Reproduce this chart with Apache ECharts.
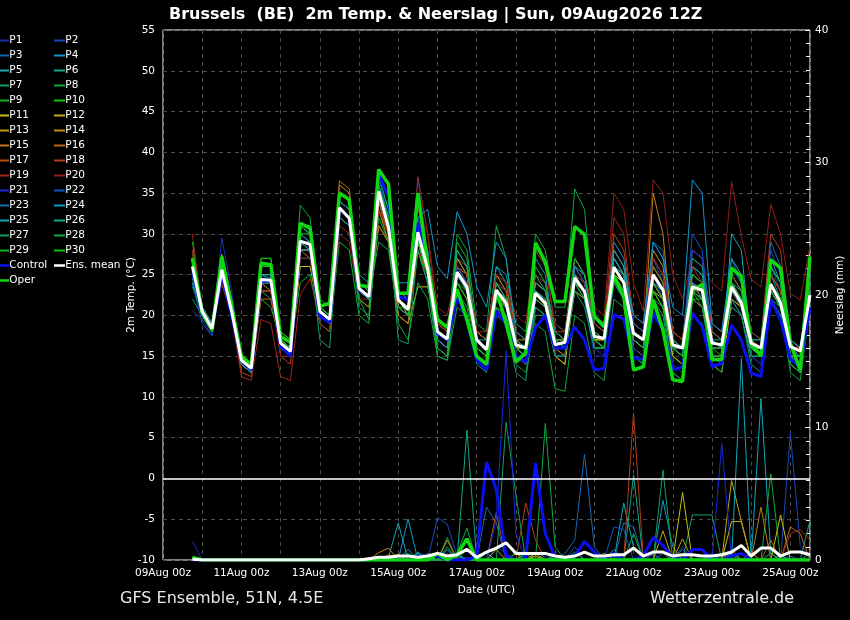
<!DOCTYPE html>
<html><head><meta charset="utf-8">
<script src="https://cdn.jsdelivr.net/npm/echarts/dist/echarts.min.js"></script>
<style>html,body{margin:0;padding:0;background:#000}#c{width:850px;height:620px}</style>
</head><body><div id="c"></div>
<script>
// ---- time axis ----
const tickLabels = ['09Aug 00z','11Aug 00z','13Aug 00z','15Aug 00z','17Aug 00z','19Aug 00z','21Aug 00z','23Aug 00z','25Aug 00z'];
const startHour = 18;   // first step: 09Aug 18z (hours after 09Aug 00z)
const stepHours = 6;

// ---- 2m temperature (°C) ----
const tMean = [26.0, 20.5,18.4,25.6,20.5, 14.5,13.5,24.4,24.3, 16.6,15.6,29.1,28.7, 20.5,19.5,33.2,31.9, 23.3,22.3,35.2,30.8, 21.9,20.7,30.2,25.7, 18.0,17.1,25.3,23.5, 17.0,15.8,23.1,21.5, 16.4,16.0,22.7,21.5, 16.4,16.7,24.6,22.9, 17.4,17.2,25.9,24.0, 17.8,17.0,25.0,23.1, 16.4,16.0,23.5,23.1, 16.6,16.4,23.5,21.5, 16.6,16.0,23.8,21.5, 16.2,15.6,22.5];
const tOper = [27.0, 20.3,18.2,27.2,21.1, 15.0,13.9,26.4,26.2, 17.4,16.7,31.3,30.7, 21.1,21.5,35.0,34.2, 23.7,23.5,37.9,36.1, 22.7,22.7,35.0,26.4, 19.5,18.5,23.2,19.5, 15.0,14.0,23.1,19.0, 14.3,15.4,28.9,26.5, 21.7,21.7,30.9,29.9, 19.9,18.6,24.8,22.3, 13.3,13.7,21.9,18.2, 12.1,11.9,23.1,23.8, 14.6,14.6,25.8,24.8, 16.6,15.0,26.8,25.8, 16.6,13.3,27.2];
const tCtrl = [25.5, 20.3,18.2,25.0,20.0, 14.5,13.3,24.2,24.2, 16.2,15.0,29.1,28.7, 19.9,19.1,33.2,31.9, 23.1,22.3,37.3,34.6, 22.3,21.9,31.3,26.8, 17.8,17.0,22.3,19.5, 14.5,13.3,20.5,19.0, 15.0,14.3,18.5,20.0, 16.0,16.0,18.6,17.0, 13.3,13.5,20.1,19.5, 14.8,14.6,20.3,18.2, 13.3,13.7,20.3,18.6, 13.7,14.1,18.8,17.0, 12.9,12.5,21.9,19.5, 14.6,13.7,21.0];
const tP1 = [20.5, 19.5,17.5,29.5,23, 14,13,24,24, 16,15,28,28, 20,19,32,31, 23,22,36,32, 21,20,37,27, 18,17,25,23, 16,15,22,21, 15,14,20,20, 15,15,23,22, 15,15,24,22, 16,15,25,22, 14,13,22,21, 14,14,22,20, 15,14,23,21, 15,14,21];
const tP2 = [25, 20,18,25,20, 14,13,24,24, 16,15,29,28, 20,19,34,33, 24,23,36,31, 22,21,31,26, 17,16,25,24, 17,16,24,23, 17,16,22,21, 16,16,26,24, 17,16,28,26, 18,17,27,24, 17,16,25,24, 16,16,24,22, 17,16,26,23, 16,15,24];
const tP3 = [24, 20,18,25,21, 15,14,25,25, 17,16,30,29, 21,20,33,32, 24,23,35,31, 22,21,29,25, 16,15,27,25, 15,14,21,20, 18,17,24,23, 18,17,27,25, 19,18,24,22, 18,17,29,28, 18,17,28,27, 19,18,27,24, 18,17,29,26, 17,16,25];
const tP4 = [23.5, 20.5,18.5,26,21, 14.5,13.5,25,24.5, 17,16,31,30, 21,20,34,33, 24,23,37,33, 22,21,32,28, 19,18,28,26, 18,17,26,24, 17,16,24,23, 18,17,26,25, 19,18,29,27, 19,18,26,24, 17,16,26,25, 18,17,25,23, 17,16,27,24, 17,16,24];
const tP5 = [24, 21,19,24,20, 15,14,23,23, 17,16,28,28, 21,20,32,31, 23,22,34,30, 21,20,29,25, 17,16,24,22, 16,15,22,21, 16,15,21,20, 17,16,23,22, 16,16,25,23, 17,16,24,22, 16,15,22,21, 16,16,21,20, 15,15,22,20, 15,14,21];
const tP6 = [27, 21,19,26,21, 15,14,26,26, 17,16,30,29, 21,20,33,32, 24,23,36,31, 22,21,30,25, 18,17,26,24, 18,17,26,25, 19,18,25,23, 19,18,27,25, 20,19,25,23, 17,16,23,21, 16,15,26,25, 17,17,24,22, 16,15,25,22, 14,13,22];
const tP7 = [22, 20,18,25,20, 14,13,23,22, 16,15,27,27, 20,19,32,31, 23,22,29,28, 20,19,28,24, 16,15,24,22, 16,15,22,20, 15,14,20,20, 16,16,23,22, 17,17,26,25, 19,18,23,21, 15,14,24,23, 16,16,26,24, 17,17,25,23, 16,16,23];
const tP8 = [28, 21,19,26,22, 15,14,27,27, 18,17,33.5,32, 22,21,34,33, 24,23,37,33, 23,22,30,25, 18,17,30,28, 19,18,31,27, 17,16,30,28, 21,21,35.5,33, 20,19,27,25, 17,16,24,22, 15,14,23,22, 18,17,26,24, 16,16,24,22, 15,14,23];
const tP9 = [26.5, 20,18,25,21, 14,13,22,21, 17,16,24,25, 19,18,29,28, 20,19,33,30, 21,20,28,24, 17,16,26,24, 16,15,23,22, 16,15,22,21, 15,15,24,23, 16,16,25,24, 17,16,26,24, 16,15,24,23, 15,15,25,23, 16,15,22,20, 15,14,23];
const tP10 = [29, 21,19,26,21, 15,14,27,27, 18,17,30,30, 21,20,34,33, 23,22,35,32, 21,21,30,26, 17,16,24,23, 17,16,23,21, 16,16,23,22, 17,17,24,23, 18,17,25,23, 17,16,23,21, 16,15,22,22, 17,16,24,22, 16,16,23,21, 16,15,22];
const tP11 = [25, 20,18,25,20, 14,13,25,25, 16,15,26,26, 20,19,32,31, 22,21,31,29, 20,19,23.5,23.5, 19,18,26,25, 18,17,23,21, 16,15,23,22, 15,14,24,22, 17,17,25,24, 16,15,23,22, 15,14,24,23, 14,13,22,21, 16,15,24,22, 15,14,22];
const tP12 = [26, 21,19,26,21, 15,14,24,24, 17,16,29,29, 21,20,34,33, 23,22,33,30, 21,20,28,25, 18,17,27,25, 17,16,25,23, 16,16,23,22, 15,14,25,24, 18,17,27,25, 19,18,28,26, 18,17,24,22, 17,16,24,22, 16,15,25,23, 17,16,23];
const tP13 = [27, 20,18,27.5,22, 14,13,24,23, 16,15,29,28, 21,20,35,34, 24,23,33,29, 22,21,29,26, 18,17,25,23, 17,16,22,21, 17,16,22,21, 17,17,25,23, 17,17,26,24, 17,16,24,22, 16,16,23,23, 17,16,22,21, 16,16,23,21, 16,16,22];
const tP14 = [26, 20,18,26,21, 14,13,24,24, 16,15,28,28, 20,19,36,35, 23,22,34,30, 22,21,30,26, 18,17,26,24, 18,17,24,22, 17,17,24,23, 17,16,24,23, 18,17,28,26, 18,17,35,30, 17,16,25,24, 17,16,24,22, 16,15,24,22, 16,15,23];
const tP15 = [25, 20,18,25,20, 14,13,23,23, 16,15,30,29, 19,18,33,32, 24,23,36,31, 22,20,31,26, 18,17,25,23, 16,15,23,21, 16,15,22,21, 16,15,23,22, 17,16,27,25, 17,16,24,23, 16,15,23,22, 15,15,22,21, 16,15,24,22, 15,15,22];
const tP16 = [26.5, 20,18,25,21, 14,13,22,22, 17,16,28,27, 21,20,36.5,35.5, 23,22,31,29, 20,19,29,25, 17,16,24,22, 16,15,23,22, 16,15,23,21, 16,15,24,23, 17,16,26,24, 18,17,26,24, 16,16,22,21, 16,16,23,22, 17,16,23,21, 15,15,22];
const tP17 = [26, 20,18,25,20, 14,13,24,24, 16,15,29,28, 20,19,33,32, 23,22,34,30, 21,20,28,25, 18,17,26,25, 17,16,24,22, 17,16,24,23, 18,17,26,24, 18,17,25,23, 17,16,24,22, 17,16,24,23, 16,16,23,21, 17,16,25,23, 16,16,23];
const tP18 = [27.5, 21,19,24,20, 13,12.5,23,23, 15,14,28,28, 20,19,32,31, 24,23,35,31, 23,22,31,27, 19,18,27,26, 18,17,25,24, 18,17,25,24, 18,18,27,25, 19,18,30,28, 20,19,27,25, 18,17,28,27, 18,17,25,23, 18,17,30,28, 16,15,24];
const tP19 = [30, 20,18,24,20, 12.5,12,19.5,19, 12.5,12,22.5,24.5, 20,19,31,30, 24,23,33,31, 22,21,37,30, 19,18,26,25, 17,16,24,23, 18,17,28,27, 18,17,27,25, 20,19,32,30, 19,18,27,25, 18,17,26,24, 19,18,26,24, 17,16,25,23, 16,16,24];
const tP20 = [28, 20,18,24,20, 14,13,23,23, 15,15,27,27, 19,18,30,29, 22,22,33,30, 21,20,33,30, 21,20,26,24, 18,18,25,24, 20,19,28,26, 19,18,25,24, 21,20,35,33, 24,20.5,36.6,35, 25,22,27,26, 24,23,36.4,29.7, 24.4,23.5,33.6,30, 22.7,21.9,28.5];
const tP21 = [25, 20,18,26,21, 15,14,25,24, 16,15,29,28, 20,19,32,31, 23,22,35,31, 22,21,32,27, 17,16,25,23, 15,14,22,21, 16,15,22,21, 15,15,24,22, 16,15,25,23, 16,15,25,23, 16,15,28,27, 16,16,24,22, 15,14,26,24, 15,14,25];
const tP22 = [24, 19,17.5,26,21, 14,13,24,24, 16,15,30,29, 20,19,34,33, 24,23,37,32, 23,22,30,26, 18,17,26,24, 17,16,24,22, 17,16,23,22, 17,16,26,24, 18,17,27,25, 19,18,29,27, 17,16,30,28, 17,16,26,24, 16,16,28,25, 16,15,24];
const tP23 = [25, 21,19,26,21, 15,14,25,25, 17,16,30,29, 21,20,34,33, 24,23,36,32, 22,21,31,26, 17,16,25,23, 16,15,22,21, 16,15,22,21, 16,16,24,22, 17,16,26,24, 17,16,25,23, 16,16,24,22, 17,16,23,21, 16,15,24,22, 15,15,23];
const tP24 = [24.5, 20,18,25,21, 15,14,25,25, 17,16,31,30, 21,20,33,32, 25,24,36,32, 24,24,32,33, 26,24.5,32.7,30, 23.5,21,29,27, 18,17,27,25, 17,16,26,25, 18,17,28,26, 20,19,29,27, 21,20,36.6,35, 19,18,27,25, 17,17,26,24, 17,16,25];
const tP25 = [26, 20,18,25,20, 14,13,24,24, 16,15,28,28, 20,19,33,32, 23,22,35,31, 21,20,30,26, 17,16,25,23, 16,15,24,22, 16,15,23,22, 17,16,25,23, 17,16,27,25, 17,16,25,23, 16,15,24,23, 15,14,30,28, 16,15,23,21, 14,13,24];
const tP26 = [25, 21,19,25,21, 15,14,25,25, 17,16,29,28, 21,20,33,32, 23,22,35,31, 22,21,29,25, 18,17,28,26, 17,17,23,22, 17,16,24,23, 18,17,24,23, 18,17,26,25, 18,17,24,23, 17,16,27,26, 17,16,24,23, 16,16,26,24, 15,15,23];
const tP27 = [24, 20,18,25,21, 14,13,24,24, 16,15,29,28, 17,16,32,31, 21,20,35,32, 17,16.5,28,24, 15,14.5,21,20, 14,13,20,19, 13,12,21,20, 15,15,23,21, 16,16,24,22, 15,14,22,21, 13,12,20,19, 15,15,22,20, 14,13,22,21, 14,13,21];
const tP28 = [26, 20,18,26,21, 15,14,26,26, 17,16,29,29, 20,19,33,32, 22,19.5,32,29, 19,17,24,22, 15,14.5,23,21, 15,14,21,19, 14,13,19,18, 11,10.7,20,19, 13,12,22,21, 15,14,22,20, 13,12,23,21, 14,13,24,22, 15,15,23,21, 13,12,21];
const tP29 = [26, 20,18,26,21, 15,14,26,26, 17,16,31,30, 21,20,33,32, 24,23,36,32, 22,21,31,27, 18,17,29,27, 17,16,24,22, 17,16,26,24, 17,17,27,25, 18,17,26,24, 18,17,24,22, 17,16,25,24, 16,16,24,22, 16,15,26,24, 14,13,24];
const tP30 = [27, 20,18,27,22, 15,14,26,26, 17,16,31,31, 21,20,35,34, 23,22,35,31, 22,20,29,25, 16,15,24,22, 16,15,21,20, 16,15,22,21, 16,16,24,22, 17,16,25,23, 17,16,23,21, 16,15,23,22, 16,15,23,22, 16,16,24,22, 15,15,22];

// ---- Neerslag (mm per 6h) ----
const pMean = [0.05,0,0,0,0,0,0,0,0,0,0,0,0,0,0,0,0,0, 0.1,0.2,0.2, 0.3,0.3,0.2,0.3, 0.5,0.3,0.4,0.8, 0.2,0.6,0.9,1.3, 0.5,0.5,0.5,0.5, 0.3,0.2,0.3,0.6, 0.3,0.3,0.4,0.4, 0.9,0.3,0.6,0.6, 0.3,0.4,0.4,0.3, 0.3,0.4,0.6,1.1, 0.3,0.9,0.9,0.3, 0.6,0.6,0.4];
const pOper = [0.2,0,0,0,0,0,0,0,0,0,0,0,0,0,0,0,0,0, 0,0,0, 0,0,0,0, 0.5,0,0.4,1.6, 0,0,0,0, 0,0,0,0, 0,0,0,0, 0,0,0,0, 0,0,0,0, 0,0,0,0, 0,0,0,0, 0,0,0,0, 0,0,0];
const pCtrl = [0,0,0,0,0,0,0,0,0,0,0,0,0,0,0,0,0,0, 0,0,0, 0,0,0.3,0.3, 0.3,0,0,0, 0.3,7.4,5.3,0.3, 0,0.1,7.3,2.0, 0.2,0,0.3,1.4, 0.6,0,0.5,0, 0,0.3,1.7,1.1, 0.2,0,0.8,0.8, 0,0,0.3,0.5, 0,0,0,0, 0,0,0];
const pP1 = [1.4,0,0,0,0,0,0,0,0,0,0,0,0,0,0,0,0,0, 0,0,0, 0,0.3,0,0, 0,0.5,0,0.2, 0,0,1,0.5, 0,0,0,0.3, 0,0,0,0, 0,0.2,0,0, 0,0,0.5,0, 0,0,0,0, 0,0.3,0,0, 0,0,0,0.4, 0,0,0];
const pP2 = [0,0,0,0,0,0,0,0,0,0,0,0,0,0,0,0,0,0, 0,0,0, 0,0,0,0, 3.2,2.7,0.3,0, 0,0.5,0,0, 0,0.4,0,0, 0,0,1,0, 0,0,0.5,0, 0,0,0.4,0, 0,0,0,0.3, 0,0,0.5,0, 0,0,0,0, 9.6,1.1,0.3];
const pP3 = [0,0,0,0,0,0,0,0,0,0,0,0,0,0,0,0,0,0, 0,0,0, 0,0,0.2,0, 0,0,0,0, 0,4,2.8,0, 0,0,0,0, 0,0.5,1.5,8, 1,0,0.3,0, 0,0,0,0.5, 0,0.8,0,0, 0.5,0,0,0, 0,0,0,0, 0.3,0,0];
const pP4 = [0,0,0,0,0,0,0,0,0,0,0,0,0,0,0,0,0,0, 0,0,0, 0,0.8,0,0.5, 0,0,0.3,0, 0,0,0,0, 0.5,0,0,0, 0,0,0,0, 0,0,0.8,0, 0,0,0,4.5, 1,0,0,0, 0,0,0.5,0, 0,0,0,0, 0,0,0.5];
const pP5 = [0,0,0,0,0,0,0,0,0,0,0,0,0,0,0,0,0,0, 0,0,0.2, 2.8,0,0.5,0, 0,0.8,0,0, 0,0.5,0,0, 0,0,0,0, 0.3,0,0,0, 0,0,0,4.3, 1,0,0,0, 0,0,0,0, 0,0,0,0, 0,12.2,0.5,0, 0,0,0];
const pP6 = [0,0,0,0,0,0,0,0,0,0,0,0,0,0,0,0,0,0, 0,0,0, 0,0,0,0.3, 0,0,0,9.8, 0,0,0,0, 0,0,0,0.5, 0,0,0,0, 0,0,0,0, 6.4,0,0,0, 0,0,0,0, 0,0,0,0, 0,0,0.5,0, 0,0,0];
const pP7 = [0,0,0,0,0,0,0,0,0,0,0,0,0,0,0,0,0,0, 0,0,0, 0,0,0.6,0, 0,1.7,0,0, 0,0,0,10.4, 4.9,0,0,0, 0,0,0,0, 0,0,0,0, 0,0,0,6.8, 0,0,3.4,3.4, 3.4,0,0,0, 0,0,0,0, 0,0,3];
const pP8 = [0,0,0,0,0,0,0,0,0,0,0,0,0,0,0,0,0,0, 0,0,0, 0,0,0,0, 0,0,0.5,2.4, 0,0,0,0, 0,0,0,10.3, 1,0,0,0, 0,0,0.5,0, 0,0,0,0, 0,0,0,0, 0,0.5,0,0, 0,0,6.5,0, 0,0,0];
const pP9 = [0.2,0,0,0,0,0,0,0,0,0,0,0,0,0,0,0,0,0, 0,0,0, 0,0.5,0,0, 0,0,0,0.8, 0,0,0,0, 0.5,0,0,0, 0,0,0,0, 0,0,0,0, 0,0,0,0, 0.3,0,0,0, 0,0,0,0, 0,0,0,0.3, 0,0,0];
const pP10 = [0,0,0,0,0,0,0,0,0,0,0,0,0,0,0,0,0,0, 0,0,0, 0,0,0,0, 0.3,0,0,0, 0,0,0,0, 0,0.5,0,0, 0,0,0,0, 0,0,0,0, 0,0,0,0, 0,0,0,0, 0,0,0,0.5, 0,0,0,0, 0,0,0];
const pP11 = [0,0,0,0,0,0,0,0,0,0,0,0,0,0,0,0,0,0, 0,0,0, 0,0,0,0, 0,0,0,0, 0,0,0,0, 0,0,0.3,0, 0,0,0,0, 0,0,0,0, 0,0,0,0, 0,5.1,0,0, 0,0,2.9,2.9, 0,0,0,3.4, 0,0,0];
const pP12 = [0,0,0,0,0,0,0,0,0,0,0,0,0,0,0,0,0,0, 0,0,0, 0,0,0,0, 0,0,0,0, 0,0,0.8,0, 0,0,0,0, 0,0,0,0, 0,0.5,0,0, 0,0,0,2.2, 0,0,0,0, 0,0,6,2.9, 0,0,0,0, 0,0,0];
const pP13 = [0,0,0,0,0,0,0,0,0,0,0,0,0,0,0,0,0,0, 0,0,0.3, 0.4,0,0,0, 0,0,0,0, 0,0,0,0, 0,0,0.5,0, 0,0,0,0, 0,0,0,0, 0,0,0,0, 0,1.6,0,0, 0,0,0,0, 0.5,0,0,0, 0,0,0];
const pP14 = [0,0,0,0,0,0,0,0,0,0,0,0,0,0,0,0,0,0, 0,0.55,0.9, 0,0,0,0, 0,1.5,0,0, 0,0,0,0, 0,0,0,0, 0,0,0,0, 0,0,0,0, 0,0,0,0, 0,0,0,0, 0,0,0,0, 0,0,0,0, 0,0,0];
const pP15 = [0,0,0,0,0,0,0,0,0,0,0,0,0,0,0,0,0,0, 0,0,0, 0,0,0,0, 0,0,0,0, 0,0,0,0, 0,0,0,0, 0,0,0,0, 0,0,0,0, 0,0,0,0, 0,0,0,0, 0,0,0.8,0, 0,4,0,0, 0,0,0];
const pP16 = [0,0,0,0,0,0,0,0,0,0,0,0,0,0,0,0,0,0, 0,0,0.4, 0,0,0,0, 0,0,0,0, 0,0,0,0, 0,0.8,0,0, 0,0,0,0, 0,0,0,0, 0,0,0,0, 0,0,0,0, 0,0,0,0, 0,0,1.5,0, 2.5,2,0];
const pP17 = [0,0,0,0,0,0,0,0,0,0,0,0,0,0,0,0,0,0, 0,0,0, 0,0,0,0, 0,0,0,0, 0,0,3.6,0, 0,0,0,0, 0,0,0,0, 0,0,0,0, 0,0,0,0, 0,0,0,0, 0,0,0,0, 0,0,0,0, 0,0,0];
const pP18 = [0,0,0,0,0,0,0,0,0,0,0,0,0,0,0,0,0,0, 0,0,0, 0,0,0,0, 0,0,0,0, 0,0,0,0, 0,4.3,1.5,0, 0,0,0,0, 0,0,0,0, 11.1,0,0,0, 0,0,0,0, 0,0,0,0, 0,0,0,0, 0,0,0];
const pP19 = [0,0,0,0,0,0,0,0,0,0,0,0,0,0,0,0,0,0, 0,0,0, 0,0,0,0, 0,0,0,0, 0,0,0,0, 0,0,0,0, 0,0,0,0, 0,0,0,0, 0,0,0,0, 0,0,0,0, 0,0,0,0, 0,0,0,0, 2.0,2.3,1.5];
const pP20 = [0,0,0,0,0,0,0,0,0,0,0,0,0,0,0,0,0,0, 0,0,0, 0,0,0,0, 0,0,0,0, 0,0,0,0, 0,0,0,0, 0,0,0,0, 0,0,0,0, 0,0,0,0, 0,0,0,0, 0,0,0,0, 0,0,0,0, 0,0,0];
const pP21 = [0,0,0,0,0,0,0,0,0,0,0,0,0,0,0,0,0,0, 0,0,0, 0,0,0,0, 0,0,0,0, 0,0,3,15.8, 2,0,0,0, 0,0,0,0, 0,0,0,0, 0,0,0,0, 0,0,0,0, 0,8.8,0,0, 0,0,0,0, 0,0,0];
const pP22 = [0,0,0,0,0,0,0,0,0,0,0,0,0,0,0,0,0,0, 0,0,0, 0,0,0,0, 0,0,0,0, 0,0,0,0, 0,0,0,0, 0,0,0,0, 0,0,2.5,2.3, 0,0,0,0, 0,1,0,0, 0,0,0,0, 0,0,0,0, 0,0,0];
const pP23 = [0,0,0,0,0,0,0,0,0,0,0,0,0,0,0,0,0,0, 0,0,0, 0,0,0,0, 0,0,0,0, 0,0,0,0, 0,0,0,0, 0,0,0,0, 0,0,0,2.8, 2.5,0,0,0, 0,0,0,0, 0,0,0,0, 0,0,0,0, 0,0,0];
const pP24 = [0,0,0,0,0,0,0,0,0,0,0,0,0,0,0,0,0,0, 0,0,0, 0,3.1,0,0, 0,0,0,0, 0,0,0,0, 0,0,0,0, 0,0,0,0, 0,0,0,0, 0,0,0,0, 0,0,0,0, 0,0,0,0, 0,0,0,0, 0,0,0];
const pP25 = [0,0,0,0,0,0,0,0,0,0,0,0,0,0,0,0,0,0, 0,0,0, 0,0,0,0, 0,0,0,0, 0,0,0,0, 0,0,0,0, 0,0,0,0, 0,0,0,0, 0,0,0,0, 0,0,0,0, 0,0,0,15.2, 0,0,0,0, 0,0,0];
const pP26 = [0,0,0,0,0,0,0,0,0,0,0,0,0,0,0,0,0,0, 0,0,0.3, 0,0,0.5,0.3, 0,0,0.5,0, 0,0,0,0, 0,0,0,0, 0,0,0.6,0, 0,0,0,0, 0,0,0,0, 0,0,0,0, 0,0,0,0, 0,0,0,0, 0,0,0];
const pP27 = [0,0,0,0,0,0,0,0,0,0,0,0,0,0,0,0,0,0, 0,0,0, 0,0,0,0, 0,1,0,0, 0,0,0,0, 0,0,0,0, 0,0,0,0, 0,0,0,0, 0,0,0,0, 0,0,0,0, 0,0,0,0, 0,0,0,0, 0,0,0];
const pP28 = [0,0,0,0,0,0,0,0,0,0,0,0,0,0,0,0,0,0, 0,0,0, 0,0,0,0, 0,0,0,0, 0,0,0,0, 0,0,0,0, 0,0,0,0, 0,0,0,0, 2,0,0,0, 0,0,0,0, 0,0,0,0, 0,0,0,0, 0,0,0];
const pP29 = [0,0,0,0,0,0,0,0,0,0,0,0,0,0,0,0,0,0, 0,0,0, 0,0,0,0, 0,0,0,0, 0,0,0,0, 0,0,0,0, 0,0,0,0, 0,0,0,0, 0,0,0,0, 0,0,0,0, 0,0,0,0, 0,0,0,0, 0,0,0];
const pP30 = [0,0,0,0,0,0,0,0,0,0,0,0,0,0,0,0,0,0, 0,0,0, 0,0,0,0, 0,0,0,0, 0,0,0,0, 0,0,0,0, 0,0,0,0, 0,0,0,0, 0,0,0,0, 0,0,0,0, 0,0,0,0, 0,0,0,0, 0,0,0];

const tMembers = [tP1,tP2,tP3,tP4,tP5,tP6,tP7,tP8,tP9,tP10,tP11,tP12,tP13,tP14,tP15,tP16,tP17,tP18,tP19,tP20,tP21,tP22,tP23,tP24,tP25,tP26,tP27,tP28,tP29,tP30];
const pMembers = [pP1,pP2,pP3,pP4,pP5,pP6,pP7,pP8,pP9,pP10,pP11,pP12,pP13,pP14,pP15,pP16,pP17,pP18,pP19,pP20,pP21,pP22,pP23,pP24,pP25,pP26,pP27,pP28,pP29,pP30];

// ---- styles ----
const memberColors = ['#1a30b0','#1848b8','#1868b0','#1098c8','#10a8b8','#10a888','#10a060','#10a840','#10b428','#10c010',
  '#c8c010','#c0a810','#c09810','#c08810','#c07810','#b86810','#b85010','#b04018','#a02818','#902018',
  '#1828d8','#1050c0','#1870b0','#1098c8','#10a8b8','#10a888','#10a060','#10a840','#10b428','#10c010'];
const ctrlColor = '#0a10f0', operColor = '#10d810', meanColor = '#ffffff';
const FONT = 'DejaVu Sans';

function toXY(arr){ return arr.map((v,i)=>[startHour + i*stepHours, v]); }

const series = [];
function addLine(name, data, color, width, yIdx, z){
  series.push({name, type:'line', data: toXY(data), yAxisIndex: yIdx, showSymbol:false, symbol:'none',
    lineStyle:{color, width}, itemStyle:{color}, z, silent:true, animation:false, emphasis:{disabled:true}});
}
tMembers.forEach((d,k)=>addLine('P'+(k+1), d, memberColors[k], 1, 0, 2));
pMembers.forEach((d,k)=>addLine('P'+(k+1)+' rr', d, memberColors[k], 1, 1, 2));
addLine('Control', tCtrl, ctrlColor, 3, 0, 3);
addLine('Control rr', pCtrl, ctrlColor, 3, 1, 3);
addLine('Oper', tOper, operColor, 3.5, 0, 4);
addLine('Oper rr', pOper, operColor, 3.5, 1, 4);
addLine('Ens. mean', tMean, meanColor, 3, 0, 5);
addLine('Ens. mean rr', pMean, meanColor, 3, 1, 5);
// 0 °C reference line
series[series.length-2].markLine = {silent:true, symbol:'none', label:{show:false}, animation:false,
  lineStyle:{color:'#fff', type:'solid', width:1.5}, data:[{yAxis:0}]};

// ---- legend (drawn as graphics, 2 columns) ----
const legendNames = tMembers.map((d,k)=>'P'+(k+1)).concat(['Control','Ens. mean','Oper']);
const legendColors = memberColors.concat([ctrlColor, meanColor, operColor]);
const graphics = [];
legendNames.forEach((nm,k)=>{
  const col = k % 2, row = Math.floor(k/2);
  const y = 40.5 + row*15;
  const x1 = col ? 54 : 0, x2 = col ? 65 : 9;
  graphics.push({type:'line', silent:true, shape:{x1, y1:y, x2, y2:y}, style:{stroke:legendColors[k], lineWidth: k>=30 ? 2.5 : 2}});
  graphics.push({type:'text', silent:true, x: x2+0.3, y: y, style:{text:nm, fill:'#fff', fontSize:10.5, fontFamily:FONT, verticalAlign:'middle', align:'left'}});
});
graphics.push({type:'text', silent:true, x:120, y:599, style:{text:'GFS Ensemble, 51N, 4.5E', fill:'#e8e8e8', fontSize:16, fontFamily:FONT, verticalAlign:'middle'}});
graphics.push({type:'text', silent:true, x:650, y:599, style:{text:'Wetterzentrale.de', fill:'#e8e8e8', fontSize:16, fontFamily:FONT, verticalAlign:'middle'}});

const chart = echarts.init(document.getElementById('c'), null, {renderer:'canvas'});
chart.setOption({
  backgroundColor:'#000',
  animation:false,
  title:{text:'Brussels  (BE)  2m Temp. & Neerslag | Sun, 09Aug2026 12Z', left:164, top:2,
    textStyle:{color:'#fff', fontSize:16, fontWeight:'bold', fontFamily:FONT}},
  grid:{left:163, right:40, top:30, bottom:60, containLabel:false, outerBoundsMode:'none',
    show:true, borderColor:'#fff', borderWidth:1, backgroundColor:'transparent'},
  xAxis:{type:'value', min:0, max:396, interval:24,
    name:'Date (UTC)', nameLocation:'middle', nameGap:25, nameMoveOverlap:false,
    nameTextStyle:{color:'#fff', fontSize:10.5, fontFamily:FONT},
    axisLine:{show:false}, axisTick:{show:false},
    axisLabel:{color:'#fff', fontSize:10.5, fontFamily:FONT, margin:8, showMaxLabel:false,
      formatter:(v)=> (v % 48 === 0 && tickLabels[v/48]) ? tickLabels[v/48] : ''},
    splitLine:{show:true, lineStyle:{color:'#4a4a4a', type:[4,4], width:1}}},
  yAxis:[
    {type:'value', min:-10, max:55, interval:5, position:'left',
      name:'2m Temp. (°C)', nameLocation:'middle', nameGap:26, nameRotate:90, nameMoveOverlap:false,
      nameTextStyle:{color:'#fff', fontSize:10.5, fontFamily:FONT},
      axisLine:{show:false}, axisTick:{show:false},
      axisLabel:{color:'#fff', fontSize:10.5, fontFamily:FONT, margin:8},
      splitLine:{show:true, lineStyle:{color:'#4a4a4a', type:[4,4], width:1}}},
    {type:'value', min:0, max:40, interval:10, position:'right',
      name:'Neerslag (mm)', nameLocation:'middle', nameGap:25, nameRotate:90, nameMoveOverlap:false,
      nameTextStyle:{color:'#fff', fontSize:10.5, fontFamily:FONT},
      axisLine:{show:false},
      axisTick:{show:true, inside:true, length:5, lineStyle:{color:'#fff'}},
      minorTick:{show:true, splitNumber:10, length:4, lineStyle:{color:'#fff'}},
      axisLabel:{color:'#fff', fontSize:10.5, fontFamily:FONT, margin:5},
      splitLine:{show:false}}
  ],
  legend:{show:false},
  tooltip:{show:false},
  graphic: graphics,
  series
});
</script>
</body></html>
